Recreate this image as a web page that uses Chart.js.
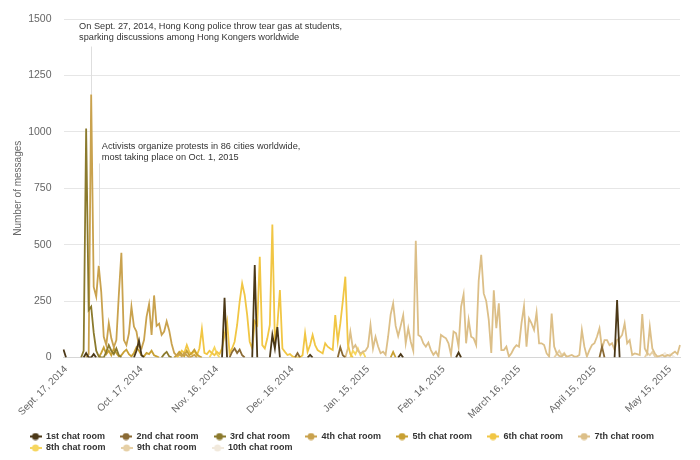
<!DOCTYPE html>
<html>
<head>
<meta charset="utf-8">
<script src="https://cdn.jsdelivr.net/npm/chart.js@4.4.0/dist/chart.umd.min.js"></script>
<style>
  html, body { margin: 0; padding: 0; background: #fff; }
</style>
</head>
<body>
<canvas id="chart" width="700" height="460"></canvas>
<script>
const firstDay = new Date(2014, 8, 16)
const dayCount = 246
const tickLabels = ["Sept. 17, 2014", "Oct. 17, 2014", "Nov. 16, 2014", "Dec. 16, 2014", "Jan. 15, 2015",
  "Feb. 14, 2015", "March 16, 2015", "April 15, 2015", "May 15, 2015"]
const tickOffset = 1
const tickEvery = 30

const roomNames = ["1st chat room", "2nd chat room", "3rd chat room", "4th chat room", "5th chat room",
  "6th chat room", "7th chat room", "8th chat room", "9th chat room", "10th chat room"]
const roomColors = ["#4b3817", "#8a6a34", "#8b7a2d", "#c9a24e", "#c8a033",
  "#f1c644", "#dcbf88", "#f6d65f", "#e6d0a6", "#f1e9dc"]

// each room: start day of a run, and the daily counts of that run
const room1Starts = [0, 8, 11, 28, 63, 75, 82, 97, 133, 156, 219]
const room1Values = [
  [35, 0],
  [0, 20, 0],
  [0, 15, 0],
  [0, 30, 75, 10, 0],
  [0, 265, 0],
  [0, 410, 0],
  [0, 100, 40, 135, 0],
  [0, 12, 0],
  [0, 15, 0],
  [0, 22, 0],
  [0, 255, 0]
]

const room2Starts = [66, 92, 109, 213]
const room2Values = [
  [0, 25, 40, 20, 35, 10, 0],
  [0, 20, 0],
  [0, 45, 10, 0],
  [0, 48, 0]
]

const room3Starts = [7, 16, 39]
const room3Values = [
  [0, 30, 1015, 210, 225, 110, 30, 5, 0],
  [0, 25, 55, 30, 15, 40, 10, 0],
  [0, 15, 25, 5, 0]
]

const room4Starts = [9]
const room4Values = [[
  0, 15, 1165, 313, 270, 406, 290, 92, 55, 152,
  85, 45, 77, 280, 464, 77, 55, 107, 225, 137,
  115, 48, 40, 77, 180, 236, 100, 275, 140, 150,
  100, 115, 160, 120, 60, 20, 8, 15, 5, 20,
  10, 0, 5, 12, 0
]]

const room5Starts = [14, 44, 130]
const room5Values = [
  [0, 20, 45, 15, 30, 10, 40, 20, 5, 10, 25, 35, 15, 5, 20, 45, 30, 10, 5, 20, 15, 30, 10, 5, 0],
  [0, 10, 25, 15, 5, 30, 10, 20, 35, 15, 5, 0],
  [0, 25, 0]
]

const room6Starts = [45]
const room6Values = [[
  0, 10, 30, 20, 55, 25, 15, 30, 10, 40,
  126, 20, 15, 30, 20, 10, 25, 15, 40, 100,
  160, 18, 40, 70, 144, 247, 328, 277, 188, 70,
  40, 160, 144, 446, 55, 40, 85, 144, 589, 70,
  144, 299, 40, 25, 11, 15, 5, 0, 0, 0,
  10, 107, 25, 55, 100, 55, 33, 25, 18, 63,
  48, 40, 33, 188, 70, 150, 250, 358, 60, 15,
  0
]]

const room7Starts = [112]
const room7Values = [[
  0, 40, 114, 40, 55, 30, 18, 25, 30, 48,
  144, 40, 92, 50, 19, 26, 12, 92, 190, 240,
  140, 95, 140, 188, 63, 130, 70, 30, 517, 100,
  92, 63, 48, 66, 33, 12, 26, 4, 100, 92,
  85, 63, 12, 115, 107, 48, 225, 280, 63, 167,
  92, 85, 55, 340, 455, 284, 250, 167, 20, 298,
  130, 240, 33, 33, 48, 4, 19, 41, 55, 48,
  151, 227, 48, 173, 151, 122, 199, 63, 63, 55,
  18, 4, 195, 48, 18, 7, 4, 15, 4, 7,
  11, 4, 4, 11, 122, 48, 4, 33, 55, 63,
  92, 129, 40, 77, 77, 55, 63, 33, 77, 85,
  100, 151, 63, 77, 11, 18, 15, 11, 192, 40,
  18, 136, 40, 18, 4, 7, 11, 4, 11, 7,
  18, 26, 15, 55
]]

const room8Starts = [58, 114]
const room8Values = [
  [0, 20, 45, 15, 0],
  [0, 30, 15, 40, 10, 25, 0]
]

const room9Starts = [195, 231]
const room9Values = [
  [0, 15, 30, 10, 20, 0],
  [0, 20, 10, 25, 5, 0]
]

const room10Starts = [237]
const room10Values = [
  [0, 10, 20, 5, 15, 8, 0]
]

const annotationDays = [11, 14]
const annotationLineTops = [1378, 860]
const annotationLineBottoms = [1165, 409]
const annotationTextDays = [6.2, 15.2]
const annotationTextValues = [1465, 936]
const annotationTexts = [
  ["On Sept. 27, 2014, Hong Kong police throw tear gas at students,", "sparking discussions among Hong Kongers worldwide"],
  ["Activists organize protests in 86 cities worldwide,", "most taking place on Oct. 1, 2015"]
]

const fontFamily = '"Liberation Sans", Arial, Helvetica, sans-serif'

const allStarts = [room1Starts, room2Starts, room3Starts, room4Starts, room5Starts,
  room6Starts, room7Starts, room8Starts, room9Starts, room10Starts]
const allValues = [room1Values, room2Values, room3Values, room4Values, room5Values,
  room6Values, room7Values, room8Values, room9Values, room10Values]

function buildSeries(starts, values) {
  const data = new Array(dayCount).fill(null)
  starts.forEach((start, i) => {
    values[i].forEach((v, j) => { data[start + j] = v })
  })
  return data
}

function makeMarker(color) {
  const c = document.createElement("canvas")
  c.width = 12
  c.height = 8
  const ctx = c.getContext("2d")
  ctx.strokeStyle = color
  ctx.lineWidth = 2
  ctx.beginPath()
  ctx.moveTo(0, 4)
  ctx.lineTo(12, 4)
  ctx.stroke()
  ctx.fillStyle = color
  ctx.beginPath()
  ctx.arc(6, 4, 3.5, 0, Math.PI * 2)
  ctx.fill()
  return c
}

const labels = []
for (let i = 0; i < dayCount; i++) {
  const d = new Date(firstDay.getFullYear(), firstDay.getMonth(), firstDay.getDate() + i)
  labels.push(d.toISOString().slice(0, 10))
}

const markers = roomColors.map(makeMarker)

const datasets = roomNames.map((name, i) => ({
  label: name,
  data: buildSeries(allStarts[i], allValues[i]),
  borderColor: roomColors[i],
  backgroundColor: roomColors[i],
  borderWidth: 1.8,
  pointRadius: 0,
  pointHoverRadius: 0,
  tension: 0,
  fill: false,
  spanGaps: false
}))

const extras = {
  id: "extras",
  beforeDatasetsDraw(chart) {
    const { ctx, scales: { x, y } } = chart
    ctx.save()
    ctx.strokeStyle = "#dedede"
    ctx.lineWidth = 1
    annotationDays.forEach((day, i) => {
      const px = Math.round(x.getPixelForValue(day)) + 0.5
      ctx.beginPath()
      ctx.moveTo(px, y.getPixelForValue(annotationLineTops[i]))
      ctx.lineTo(px, y.getPixelForValue(annotationLineBottoms[i]))
      ctx.stroke()
    })
    ctx.restore()
  },
  afterDatasetsDraw(chart) {
    const { ctx, chartArea, scales: { x, y } } = chart
    ctx.save()
    ctx.font = "9.2px " + fontFamily
    ctx.fillStyle = "#333"
    ctx.textAlign = "left"
    ctx.textBaseline = "middle"
    annotationTexts.forEach((lines, i) => {
      const tx = x.getPixelForValue(annotationTextDays[i])
      const ty = y.getPixelForValue(annotationTextValues[i])
      lines.forEach((line, j) => ctx.fillText(line, tx, ty + j * 11))
    })
    ctx.translate(18, (chartArea.top + chartArea.bottom) / 2)
    ctx.rotate(-Math.PI / 2)
    ctx.textAlign = "center"
    ctx.font = "10px " + fontFamily
    ctx.fillStyle = "#666"
    ctx.fillText("Number of messages", 0, 0)
    ctx.restore()
  }
}

new Chart(document.getElementById("chart"), {
  type: "line",
  data: { labels, datasets },
  plugins: [extras],
  options: {
    responsive: false,
    animation: false,
    devicePixelRatio: 1,
    layout: { padding: { left: 27, right: 20, top: 19, bottom: -2.5 } },
    scales: {
      x: {
        grid: { display: false, drawTicks: false },
        border: { color: "#d6d6d6", width: 1 },
        ticks: {
          autoSkip: false,
          minRotation: 45,
          maxRotation: 45,
          padding: 6,
          color: "#666",
          font: { size: 10, family: fontFamily },
          callback: (value, index) =>
            index >= tickOffset && (index - tickOffset) % tickEvery === 0
              ? tickLabels[(index - tickOffset) / tickEvery] : ""
        },
        afterFit(scale) { scale.height = 72 }
      },
      y: {
        min: 0,
        max: 1500,
        grid: { color: "#e6e6e6", drawTicks: false },
        border: { display: false },
        ticks: {
          stepSize: 250,
          padding: 12,
          color: "#666",
          font: { size: 10.5, family: fontFamily },
          callback: value => String(value)
        },
        afterFit(scale) { scale.width = 36.5 }
      }
    },
    plugins: {
      tooltip: { enabled: false },
      legend: {
        position: "bottom",
        align: "start",
        labels: {
          usePointStyle: true,
          pointStyleWidth: 12,
          padding: 2.5,
          color: "#333",
          font: { size: 9, weight: "bold", family: fontFamily },
          generateLabels(chart) {
            const items = Chart.defaults.plugins.legend.labels.generateLabels(chart)
            items.forEach((item, i) => {
              item.text = item.text + "     "
              item.pointStyle = markers[i]
            })
            return items
          }
        }
      }
    }
  }
})
</script>
</body>
</html>
